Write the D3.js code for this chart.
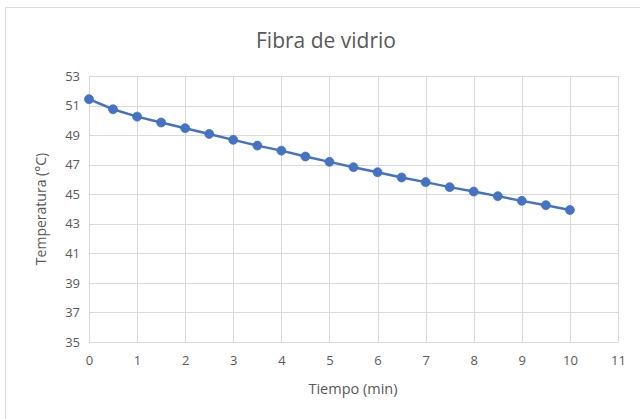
<!DOCTYPE html>
<html>
<head>
<meta charset="utf-8">
<script src="https://cdn.jsdelivr.net/npm/d3@7"></script>
<style>
  html, body { margin: 0; padding: 0; background: #fff; }
  svg { display: block; }
</style>
</head>
<body>
<svg id="chart" width="640" height="419"></svg>
<script>
const title = "Fibra de vidrio";
const xLabel = "Tiempo (min)";
const yLabel = "Temperatura (°C)";
const times = [0, 0.5, 1, 1.5, 2, 2.5, 3, 3.5, 4, 4.5, 5, 5.5, 6, 6.5, 7, 7.5, 8, 8.5, 9, 9.5, 10];
const temps = [51.43, 50.75, 50.25, 49.85, 49.47, 49.08, 48.68, 48.29, 47.95, 47.55, 47.19, 46.83, 46.49, 46.13, 45.82, 45.48, 45.18, 44.87, 44.55, 44.26, 43.93];
const xTicks = [0, 1, 2, 3, 4, 5, 6, 7, 8, 9, 10, 11];
const yTicks = [35, 37, 39, 41, 43, 45, 47, 49, 51, 53];

(function () {
const svg = d3.select("#chart");
const font = "'Open Sans', 'Noto Sans', sans-serif";
const textColor = "#595959";
const gridColor = "#d9d9d9";
const lineColor = "#4472C4";

// chart area border (top & left visible)
svg.append("rect").attr("x", 5.5).attr("y", 7.5).attr("width", 700).attr("height", 500)
  .attr("fill", "#fff").attr("stroke", "#d9d9d9").attr("stroke-width", 1);

const pLeft = 89, pRight = 618, pTop = 76, pBottom = 342;
const x = d3.scaleLinear().domain([0, 11]).range([pLeft, pRight]);
const y = d3.scaleLinear().domain([35, 53]).range([pBottom, pTop]);

// gridlines
svg.append("g").selectAll("line").data(yTicks).join("line")
  .attr("x1", pLeft).attr("x2", pRight)
  .attr("y1", d => Math.round(y(d)) + 0.5).attr("y2", d => Math.round(y(d)) + 0.5)
  .attr("stroke", gridColor).attr("stroke-width", 1);
svg.append("g").selectAll("line").data(xTicks).join("line")
  .attr("y1", pTop).attr("y2", pBottom)
  .attr("x1", d => Math.round(x(d)) + 0.5).attr("x2", d => Math.round(x(d)) + 0.5)
  .attr("stroke", gridColor).attr("stroke-width", 1);

// axes via d3
const xAxis = d3.axisBottom(x).tickValues(xTicks).tickSize(0).tickPadding(14).tickFormat(d3.format("d"));
const gx = svg.append("g").attr("transform", `translate(0,${pBottom})`).call(xAxis);
gx.select(".domain").attr("stroke", gridColor);
gx.selectAll("text").attr("fill", textColor).style("font-family", font).style("font-size", "13px");

const yAxis = d3.axisLeft(y).tickValues(yTicks).tickSize(0).tickPadding(9).tickFormat(d3.format("d"));
const gy = svg.append("g").attr("transform", `translate(${pLeft},0)`).call(yAxis);
gy.select(".domain").remove();
gy.selectAll("text").attr("fill", textColor).style("font-family", font).style("font-size", "13px");

// line
const data = times.map((t, i) => ({ t, v: temps[i] }));
const line = d3.line().x(d => x(d.t)).y(d => y(d.v));
svg.append("path").datum(data).attr("d", line)
  .attr("fill", "none").attr("stroke", lineColor).attr("stroke-width", 2.5)
  .attr("stroke-linejoin", "round");
svg.append("g").selectAll("circle").data(data).join("circle")
  .attr("cx", d => x(d.t)).attr("cy", d => y(d.v)).attr("r", 4.5)
  .attr("fill", lineColor).attr("stroke", lineColor).attr("stroke-width", 0.75);

// title
svg.append("text").attr("x", 326).attr("y", 48).attr("text-anchor", "middle")
  .attr("fill", textColor).style("font-family", font).style("font-size", "21px")
  .text(title);
// axis titles
svg.append("text").attr("x", 353).attr("y", 394).attr("text-anchor", "middle")
  .attr("fill", textColor).style("font-family", font).style("font-size", "14.5px")
  .text(xLabel);
svg.append("text").attr("transform", `translate(46,${(pTop + pBottom) / 2}) rotate(-90)`)
  .attr("text-anchor", "middle")
  .attr("fill", textColor).style("font-family", font).style("font-size", "14px")
  .text(yLabel);
})();
</script>
</body>
</html>
